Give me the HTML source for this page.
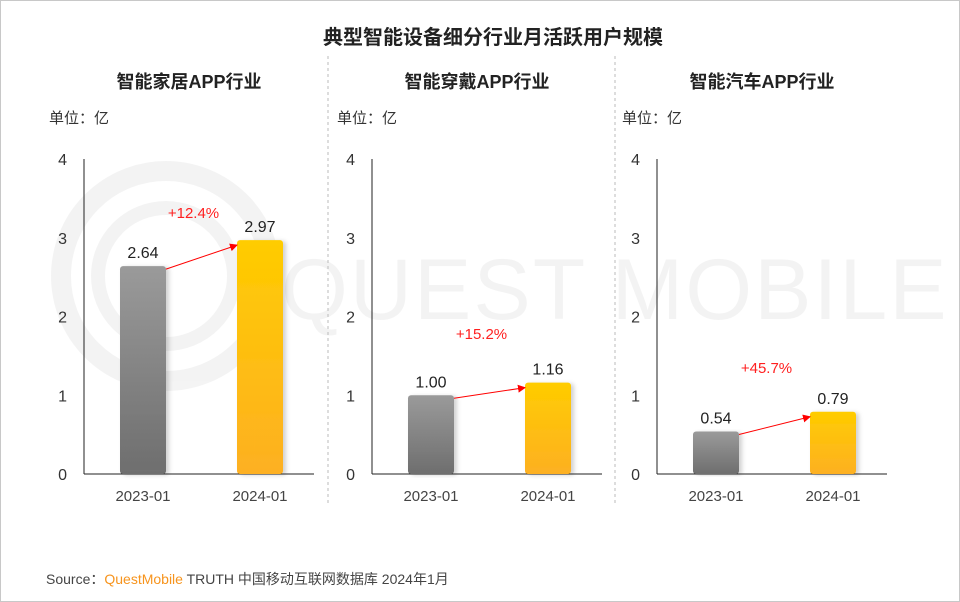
<!DOCTYPE html>
<html><head><meta charset="utf-8"><style>
body{margin:0;background:#fff;}
#wrap{position:relative;width:958px;height:600px;border:1px solid #c8c8c8;background:#fff;overflow:hidden;font-family:"Liberation Sans","Noto Sans CJK SC",sans-serif;}
svg{position:absolute;left:0;top:0;}
</style></head><body>
<div id="wrap">
<svg id="chart" width="960" height="602">
<defs>
<linearGradient id="gGray" x1="0" y1="0" x2="0" y2="1"><stop offset="0" stop-color="#9a9a9a"/><stop offset="1" stop-color="#6e6e6e"/></linearGradient>
<linearGradient id="gGold" x1="0" y1="0" x2="0" y2="1"><stop offset="0" stop-color="#ffcc00"/><stop offset="1" stop-color="#fdb022"/></linearGradient>
<marker id="arr" markerWidth="8" markerHeight="8" refX="7" refY="4" orient="auto" markerUnits="userSpaceOnUse"><path d="M0,0 L8,4 L0,8 z" fill="#ff0000"/></marker>
<filter id="sh" x="-20%" y="-5%" width="150%" height="110%"><feDropShadow dx="3" dy="1" stdDeviation="2" flood-color="#000" flood-opacity="0.18"/></filter>
</defs>
<g opacity="0.045" fill="none" stroke="#000">
<circle cx="165" cy="275" r="105" stroke-width="20"/>
<circle cx="165" cy="275" r="68" stroke-width="14"/>
<text x="280" y="318" font-size="86" fill="#000" stroke="none" font-family="Liberation Sans" letter-spacing="2">QUEST MOBILE</text>
</g>
<text x="492" y="43" text-anchor="middle" font-size="20" font-weight="bold" fill="#222">典型智能设备细分行业月活跃用户规模</text>
<line x1="327" y1="55" x2="327" y2="505" stroke="#bbb" stroke-dasharray="3,3"/>
<line x1="614" y1="55" x2="614" y2="505" stroke="#bbb" stroke-dasharray="3,3"/>
<text x="45" y="583" font-size="14" fill="#444">Source：<tspan fill="#f7941d">QuestMobile</tspan> TRUTH 中国移动互联网数据库 2024年1月</text>
<g id="panels"></g>
</svg>
</div>
<script>
const panelTitles = ["智能家居APP行业", "智能穿戴APP行业", "智能汽车APP行业"];
const categories = ["2023-01", "2024-01"];
const values2023 = [2.64, 1.00, 0.54];
const values2024 = [2.97, 1.16, 0.79];
const growthLabels = ["+12.4%", "+15.2%", "+45.7%"];
const yTicks = [0, 1, 2, 3, 4];

const NS = "http://www.w3.org/2000/svg";
const g = document.getElementById("panels");
const axisX = [83, 371, 656];
const growthY = [217, 338, 372];
const baseY = 473, topY = 158, yMax = 4;
function yScale(v){ return baseY - (v / yMax) * (baseY - topY); }
function xBar(p, i){ return axisX[p] + 36 + i * 117; }
const barW = 46;
function mk(tag, attrs, txt){ const e = document.createElementNS(NS, tag); for (const k in attrs) e.setAttribute(k, attrs[k]); if (txt !== undefined) e.textContent = txt; g.appendChild(e); return e; }

for (let p = 0; p < 3; p++) {
  const ax = axisX[p];
  let t = mk("text", {x: ax + 105, y: 87, "text-anchor": "middle", "font-size": 18, "font-weight": "bold", fill: "#222"}, panelTitles[p]);
  
  
  t = mk("text", {x: ax - 35, y: 122, "font-size": 15, fill: "#333"}, "单位：亿");
  
  
  let l = mk("line", {x1: ax, y1: topY, x2: ax, y2: baseY, stroke: "#222", "stroke-width": 1});
  
  
  l = mk("line", {x1: ax, y1: baseY, x2: ax + 230, y2: baseY, stroke: "#222", "stroke-width": 1});
  
  
  yTicks.forEach(v => {
    const e = mk("text", {x: ax - 17, y: yScale(v) + 6, "text-anchor": "end", "font-size": 16, fill: "#333"}, String(v));
    
    
  });
  const vals = [values2023[p], values2024[p]];
  const fills = ["url(#gGray)", "url(#gGold)"];
  const tops = [];
  for (let i = 0; i < 2; i++) {
    const x = xBar(p, i), y = yScale(vals[i]);
    tops.push([x, y]);
    const r = mk("rect", {x: x, y: y, width: barW, height: baseY - y, rx: 3, fill: fills[i], filter: "url(#sh)"});
    
    
    const vt = mk("text", {x: x + barW / 2, y: y - 8, "text-anchor": "middle", "font-size": 16, fill: "#222"}, vals[i].toFixed(2));
    
    
    const ct = mk("text", {x: x + barW / 2, y: 500, "text-anchor": "middle", "font-size": 15, fill: "#444"}, categories[i]);
    
    
  }
  const a = mk("line", {x1: tops[0][0] + barW, y1: tops[0][1] + 3, x2: tops[1][0], y2: tops[1][1] + 5, stroke: "#ff0000", "stroke-width": 1, "marker-end": "url(#arr)"});
  
  
  const gt = mk("text", {x: (tops[0][0] + barW + tops[1][0]) / 2 - 8, y: growthY[p], "text-anchor": "middle", "font-size": 15, fill: "#ff2020"}, growthLabels[p]);
  
  
}
</script>
</body></html>
